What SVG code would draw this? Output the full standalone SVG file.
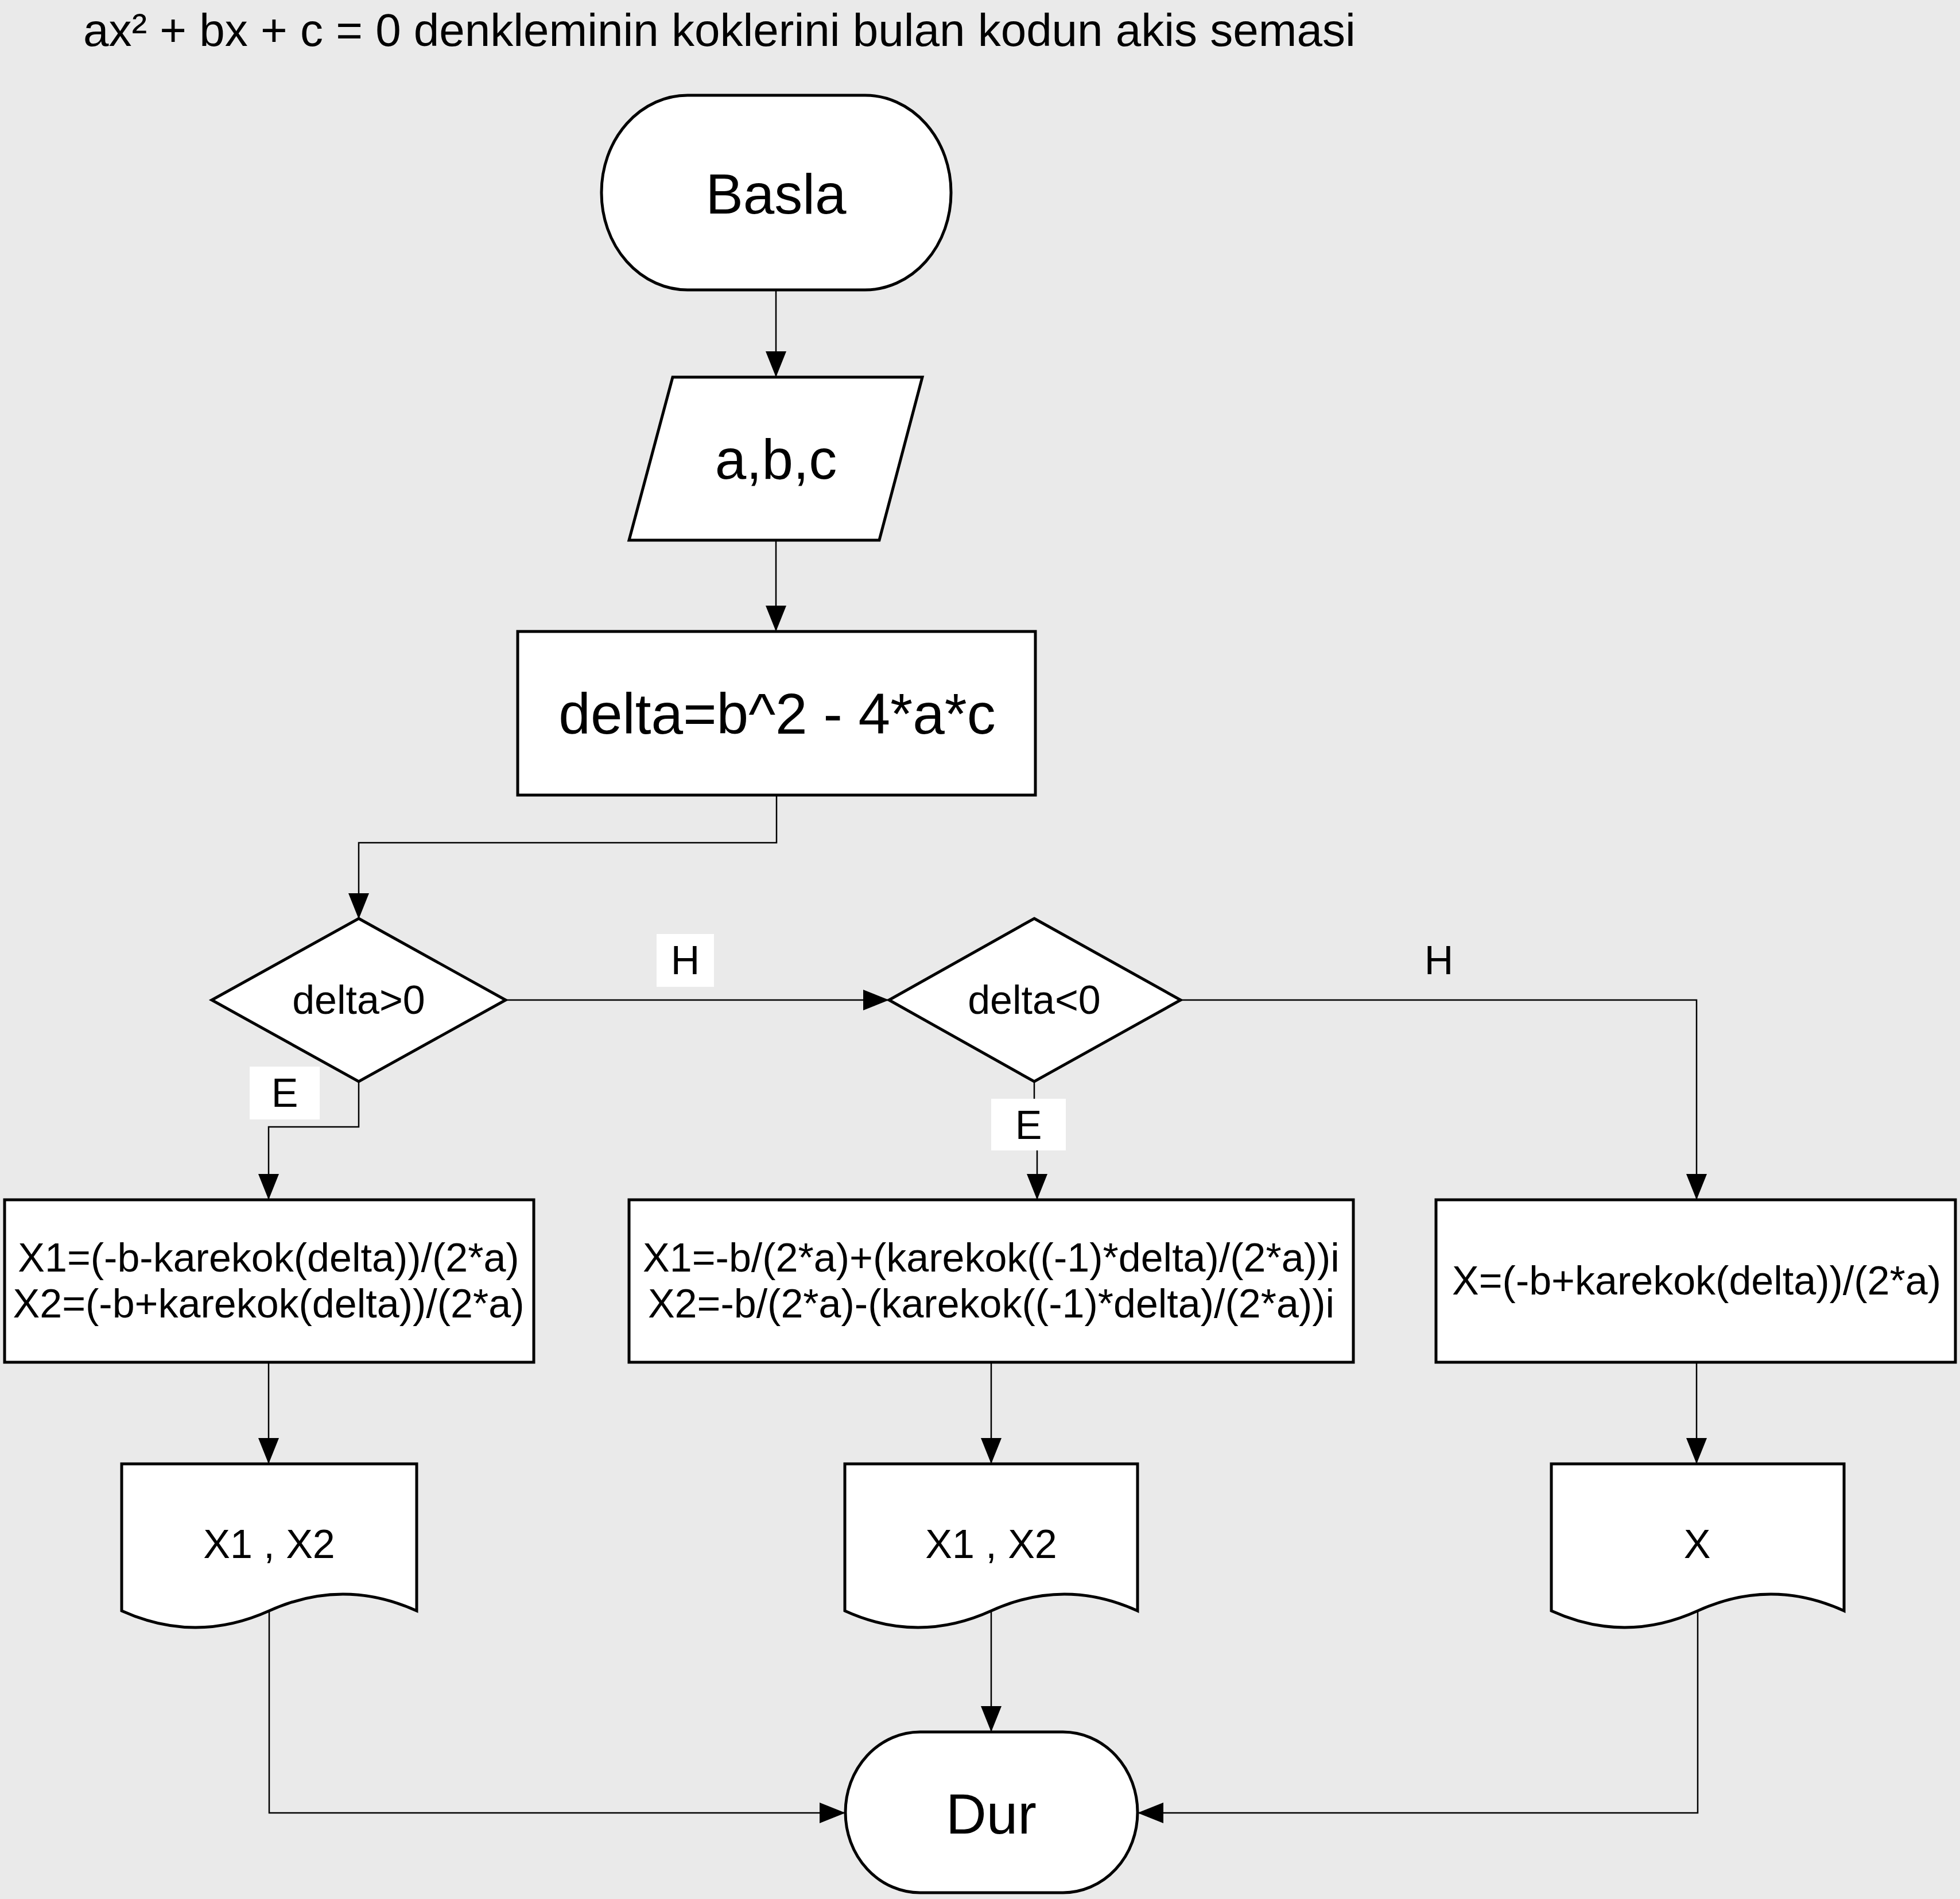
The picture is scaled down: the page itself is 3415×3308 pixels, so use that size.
<svg xmlns="http://www.w3.org/2000/svg" width="3415" height="3308" viewBox="0 0 3415 3308">
  <defs>
    <style>
      .shape { fill: #ffffff; stroke: #000000; stroke-width: 5; stroke-linejoin: miter; }
      .conn { fill: none; stroke: #000000; stroke-width: 2.5; marker-end: url(#arrow); }
      .line { fill: none; stroke: #000000; stroke-width: 2.5; }
      .txt { font-family: "Liberation Sans", Arial, sans-serif; fill: #000000; text-anchor: middle; }
      .big { font-size: 98px; }
      .mid { font-size: 100px; }
      .small { font-size: 70px; }
      .lblbox { fill: #ffffff; stroke: none; }
    </style>
    <marker id="arrow" markerUnits="userSpaceOnUse" markerWidth="46" markerHeight="36" refX="45" refY="18" orient="auto">
      <path d="M0,0 L45,18 L0,36 Z" fill="#000000"/>
    </marker>
  </defs>

  <!-- page background -->
  <rect x="0" y="0" width="3415" height="3308" fill="#eaeaea"/>

  <!-- title -->
  <text x="145" y="80" font-family="Liberation Sans, Arial, sans-serif" font-size="80" fill="#000000">ax² + bx + c = 0 denkleminin koklerini bulan kodun akis semasi</text>

  <!-- connectors -->
  <g id="connectors">
    <path class="conn" d="M1352 505 V657"/>
    <path class="conn" d="M1352 941 V1100"/>
    <path class="conn" d="M1353 1385 V1468 H625 V1601"/>
    <path class="conn" d="M881 1742 H1549"/>
    <path class="conn" d="M2057 1742 H2956 V2090"/>
    <path class="conn" d="M625 1884 V1963 H468 V2090"/>
    <path class="conn" d="M1802 1884 V1960 H1807 V2090"/>
    <path class="conn" d="M468 2373 V2550"/>
    <path class="conn" d="M1727 2373 V2550"/>
    <path class="conn" d="M2956 2373 V2550"/>
    <path class="conn" d="M469 2806 V3158 H1473"/>
    <path class="conn" d="M1727 2806 V3017"/>
    <path class="conn" d="M2958 2806 V3158 H1982"/>
  </g>

  <!-- branch labels -->
  <g id="label-h1">
    <rect class="lblbox" x="1144" y="1627" width="100" height="92"/>
    <text class="txt small" x="1194" y="1697">H</text>
  </g>
  <g id="label-h2">
    <text class="txt small" x="2507" y="1697">H</text>
  </g>
  <g id="label-e1">
    <rect class="lblbox" x="435" y="1858" width="122" height="92"/>
    <text class="txt small" x="496" y="1928">E</text>
  </g>
  <g id="label-e2">
    <rect class="lblbox" x="1727" y="1914" width="130" height="90"/>
    <text class="txt small" x="1792" y="1984">E</text>
  </g>

  <!-- start -->
  <g id="node-start">
    <rect class="shape" x="1048" y="166" width="609" height="339" rx="150" ry="169"/>
    <text class="txt big" x="1352" y="372">Basla</text>
  </g>

  <!-- input -->
  <g id="node-input">
    <polygon class="shape" points="1172,657 1607,657 1532,941 1096,941"/>
    <text class="txt big" x="1352" y="834">a,b,c</text>
  </g>

  <!-- discriminant -->
  <g id="node-delta">
    <rect class="shape" x="902" y="1100" width="902" height="285"/>
    <text class="txt mid" x="1354" y="1278">delta=b^2 - 4*a*c</text>
  </g>

  <!-- decision: delta > 0 -->
  <g id="node-dpos">
    <polygon class="shape" points="625,1600 881,1742 625,1884 369,1742"/>
    <text class="txt small" x="625" y="1766">delta&gt;0</text>
  </g>

  <!-- decision: delta < 0 -->
  <g id="node-dneg">
    <polygon class="shape" points="1802,1600 2057,1742 1802,1884 1549,1742"/>
    <text class="txt small" x="1802" y="1766">delta&lt;0</text>
  </g>

  <!-- two real roots -->
  <g id="node-real">
    <rect class="shape" x="8" y="2090" width="922" height="283"/>
    <text class="txt small" x="468" y="2215">X1=(-b-karekok(delta))/(2*a)</text>
    <text class="txt small" x="468" y="2295">X2=(-b+karekok(delta))/(2*a)</text>
  </g>

  <!-- complex roots -->
  <g id="node-complex">
    <rect class="shape" x="1096" y="2090" width="1262" height="283"/>
    <text class="txt small" x="1727" y="2215">X1=-b/(2*a)+(karekok((-1)*delta)/(2*a))i</text>
    <text class="txt small" x="1727" y="2295">X2=-b/(2*a)-(karekok((-1)*delta)/(2*a))i</text>
  </g>

  <!-- single root -->
  <g id="node-single">
    <rect class="shape" x="2502" y="2090" width="905" height="283"/>
    <text class="txt small" x="2956" y="2255">X=(-b+karekok(delta))/(2*a)</text>
  </g>

  <!-- outputs -->
  <g id="node-out1">
    <path class="shape" d="M212 2550 H726 V2806 Q597.5 2748 469 2806 T212 2806 Z"/>
    <text class="txt small" x="469" y="2714">X1 , X2</text>
  </g>
  <g id="node-out2">
    <path class="shape" d="M1472 2550 H1982 V2806 Q1854.5 2748 1727 2806 T1472 2806 Z"/>
    <text class="txt small" x="1727" y="2714">X1 , X2</text>
  </g>
  <g id="node-out3">
    <path class="shape" d="M2703 2550 H3213 V2806 Q3085.5 2748 2958 2806 T2703 2806 Z"/>
    <text class="txt small" x="2957" y="2714">X</text>
  </g>

  <!-- end -->
  <g id="node-end">
    <rect class="shape" x="1473" y="3017" width="509" height="280" rx="130" ry="140"/>
    <text class="txt big" x="1727" y="3194">Dur</text>
  </g>
</svg>
